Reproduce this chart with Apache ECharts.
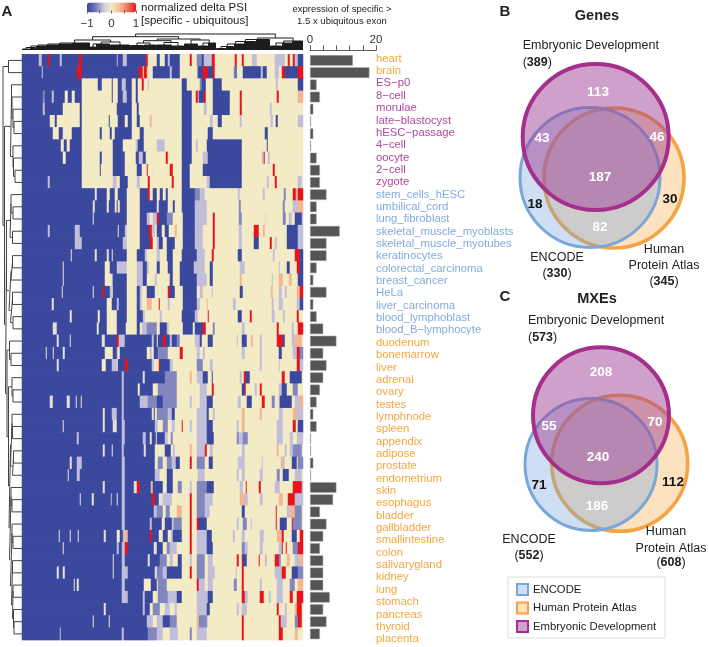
<!DOCTYPE html>
<html><head><meta charset="utf-8">
<style>html,body{margin:0;padding:0;background:#fff}#c{width:709px;height:647px}</style>
<script src="https://cdn.jsdelivr.net/npm/echarts@6/dist/echarts.min.js"></script>
</head><body><div id="c"></div>
<script>
const FONT = '"Liberation Sans", Arial, sans-serif';
const ORANGE = '#f5a63f', PURPLE = '#b0499f', BLUE = '#82abdd';

const samples = ['heart','brain','ES−p0','8−cell','morulae','late−blastocyst','hESC−passage','4−cell','oocyte','2−cell','zygote','stem_cells_hESC','umbilical_cord','lung_fibroblast','skeletal_muscle_myoblasts','skeletal_muscle_myotubes','keratinocytes','colorectal_carcinoma','breast_cancer','HeLa','liver_carcinoma','blood_lymphoblast','blood_B−lymphocyte','duodenum','bonemarrow','liver','adrenal','ovary','testes','lymphnode','spleen','appendix','adipose','prostate','endometrium','skin','esophagus','bladder','gallbladder','smallintestine','colon','salivarygland','kidney','lung','stomach','pancreas','thyroid','placenta'];
const expression = [13,18,2,3,1,0,1,0,2,3,3,5,2,2,9,5,5,2,1,5,1,2,4,8,4,5,4,3,2,1,2,0,0,1,0,8,7,3,5,4,3,4,4,4,6,4,5,3];

// Each heat row: value code + last column index of the run.
const levels = {B:-1,M:-0.6,L:-0.35,W:-0.12,c:0,o:0.35,p:0.6,r:1};
const heatRows = [
"B17 L20 B26 r28 B38 L40 B57 r60 B95 L96 B101 L105 B124 r126 c135 B138 c143 B146 L148 B158 c168 r170 c175 M180 B182 L190 r193 c213 r215 c220 r222 c230 L235 c253 L263 c266 r268 c271 r273 L276 B281",
"B20 L21 B55 r60 B117 r121 c122 r125 o126 c131 B148 L150 B158 c175 L176 B181 r186 B191 r193 c212 M214 B215 c221 B239 L241 B245 c253 L257 c260 r263 B276 r281",
"B60 c76 B80 c90 B91 c96 B100 L104 B110 c114 B116 c120 r122 c126 L127 c160 B165 c178 M180 B184 c191 B200 c254 L256 c276 B281",
"B21 M23 B30 L32 B43 c46 B50 c53 B60 c90 B91 c96 B101 L105 B110 c114 B116 c160 B170 c174 r176 L177 B182 r184 c191 B208 c218 r220 c255 r257 c276 o281",
"B21 L23 B41 c58 B60 c95 B110 c115 B117 c160 B170 c182 L185 c191 B208 c218 r220 c248 L250 c281",
"B28 c33 B35 c58 B60 c87 B88 c96 B103 c106 B110 c115 B118 c128 o130 c160 B170 c188 L191 c196 B200 c218 L220 c249 L251 c254 B256 c276 L281",
"B31 c37 B41 c50 B60 c78 B80 c88 B90 c93 B110 c118 B122 c160 B170 c186 B191 c243 B246 c281",
"B39 c42 B45 c48 B60 c91 B101 c114 L116 B122 c135 L143 c160 B170 c174 L176 c185 B220 c245 B246 c281",
"B41 c44 B60 c78 B80 c91 B103 c114 B117 L121 B124 c144 r146 c160 B170 c181 L186 B220 c240 L242 r243 c246 L248 c281",
"B60 c78 B79 c91 B103 c115 B120 c125 r126 c148 r151 c160 B168 c181 B220 c251 r253 c281",
"B26 L28 B60 c91 L95 c98 B106 c115 L118 c126 r128 c150 r152 c160 B168 c185 L188 B220 c245 L247 c253 r255 c276 L280 c281",
"B73 W75 B85 c88 B93 c96 B105 c118 B126 r128 c131 B135 c138 B141 c144 B146 c160 B173 M178 L183 c216 L218 c241 L243 c262 M264 c271 r274 o276 r281",
"B71 W73 B85 c87 B93 W95 B96 c98 B105 c118 B135 W137 B146 c151 B153 c160 B173 L185 c217 M219 c261 M263 c271 L276 o281",
"B71 W72 B105 c118 B125 L128 c131 L135 r137 B145 M151 c161 B173 L185 c191 r193 c217 M220 c243 W245 c261 M264 c267 L270 c273 B280 L281",
"B26 L28 B53 L58 B96 W97 B103 L105 c118 B127 r130 L133 c135 B140 c143 B147 c153 o155 c161 B173 L181 c191 r193 c217 L220 c232 r237 c241 o243 c265 B276 L281",
"B53 L60 B101 L105 c118 B128 r131 c135 L137 B141 c145 B153 c161 B173 L181 c191 r193 c217 L220 c232 B237 c248 r250 c253 L255 c265 B276 L281",
"B49 W50 B73 W75 B85 W87 B90 W91 B105 c115 B123 L125 c135 L138 c145 B151 c160 B175 L183 c190 r192 c216 B220 c251 L253 c273 r278 B281",
"B41 W42 B83 c88 B95 L105 c115 L121 B125 L127 c135 B138 c146 B151 c158 B172 L183 c188 B191 c218 L223 c257 L258 c265 B268 c275 r278 B281",
"B41 W42 B83 c90 L91 B105 c115 L121 B125 c133 L135 c148 B151 c158 B175 L185 c188 B191 c218 o220 c250 L251 c257 o261 c267 o270 c276 B281",
"B40 W41 B71 W72 B80 r82 B88 L90 c91 B105 c115 B118 L120 c125 B133 c146 r148 B153 c161 B175 c178 L181 c190 L191 c218 B221 c249 o251 c257 L260 c263 L265 c275 o278 r281",
"B30 W32 B85 c90 B95 L97 B105 c115 B118 L120 c125 o130 c137 r138 c146 L148 c161 B175 L178 c185 o186 c211 L214 c250 L252 c257 L261 c275 L278 B281",
"B48 W50 B76 c78 B85 c95 B105 c115 B121 L123 c138 L140 c160 B173 L176 c186 r187 c216 B220 c228 r230 c250 L253 c261 L263 c275 r277 c281",
"B31 W35 B75 W77 B85 c95 B104 c115 B118 c120 L125 M135 c138 B145 L147 c161 B171 c173 B181 r184 c191 M193 c220 L223 c255 r257 c270 L272 c276 r281",
"B35 W37 B48 W49 B80 W83 B95 r97 L103 B130 L132 B135 c136 B141 r144 B148 L150 B155 M158 c173 L178 B180 c186 B191 c215 L216 c220 B225 c229 o231 c238 L240 c255 r261 B263 c270 L273 o280 c281",
"B24 W25 B31 W32 B41 W43 B83 c91 B95 L96 c98 B125 c128 L130 c132 B136 M146 c158 r161 c175 L178 c181 L183 c220 L223 c238 L240 c257 B260 c271 L275 r278 M281",
"B35 W37 B80 c84 B90 L95 c96 B103 r106 B130 L132 c137 r138 B148 L151 c175 M181 c188 L191 c238 L240 c257 L258 c275 r278 L281",
"B100 L102 B121 W123 B143 M155 c168 o170 c175 L181 B186 c190 B191 c218 L220 c222 r224 B228 c260 r263 c268 B280 c281",
"B100 L102 B116 c118 B131 c136 M155 c178 L185 c190 r192 c220 B223 r224 c233 L235 c238 r240 c257 L260 B265 c271 M276 c281",
"B28 W31 B45 W48 B54 W55 B59 W60 B100 L102 B118 L126 M135 B141 M155 c168 L170 c178 L185 B191 c216 L219 c225 B230 c240 r243 c250 M253 c257 L258 B270 c273 L278 o281",
"B81 W83 B90 L95 B100 L102 B130 W132 B133 c135 M146 L150 B153 c175 L185 B187 c191 L193 c220 o223 c238 o240 c257 L261 c271 o275 L281",
"B41 W42 B81 W83 B91 W95 B100 L103 B133 L136 c141 M146 c150 L153 c160 r161 c168 L170 c175 L185 B191 c215 L217 c220 o223 c255 L261 c271 r274 c276 B281",
"B55 L57 B100 L103 B121 L124 B128 W130 B134 W135 B143 L146 c149 M151 c175 L185 B192 c215 M217 L221 M226 c255 L261 c268 L271 c275 L281",
"B81 W83 B90 W91 B100 L102 B122 W124 B133 c143 B149 c151 L153 c168 o170 c175 L183 r185 c188 L191 c220 L223 c255 o257 c263 L265 c268 L271 M280 c281",
"B48 W50 B55 L60 B100 L103 B133 c136 M141 c145 M150 L154 B158 c168 r170 c175 M183 c187 B191 c216 L223 c240 L241 c259 o261 L263 c270 B275 c276 M281",
"B46 W47 B55 L58 B100 L103 B133 L138 c145 B151 c176 L183 c215 L217 c220 L223 c238 L241 c255 M258 c261 B267 c273 L280 c281",
"B81 W83 B100 L103 B112 W115 r118 B129 o131 B141 c145 B151 c156 M160 c168 L170 c175 M185 B192 c218 L221 c224 r225 c237 r239 c253 L258 c271 r280 L281",
"B58 W59 B70 W72 B89 L90 B95 W96 B100 L103 B130 r133 B137 W141 L150 c168 r170 c175 M183 L191 c218 o223 L226 c238 L241 c257 o261 c266 r273 L281",
"B100 L103 B132 L135 M141 c144 M148 c155 o160 c168 r170 c175 M183 L188 c220 B223 c254 r255 c265 L268 o273 M280 c281",
"B100 L103 B128 L130 B140 c143 B150 L152 M160 c168 r170 c175 r177 B185 c215 L217 c221 M225 c229 L230 c254 r255 c258 B265 c270 r271 M280 c281",
"B37 W38 B48 W49 B56 W57 B82 W84 B95 c98 B101 L103 o106 B128 r130 B137 c141 B146 c149 L151 B160 c168 r170 c175 L185 B190 c211 L213 c220 L223 c238 L242 c255 o260 r262 c270 B275 c278 r281",
"B41 W42 B95 L97 B100 L103 r106 B132 W135 B141 c145 M148 L155 c168 r170 c175 L185 B191 c220 M223 L226 c238 L241 c257 L260 r261 c264 r265 c271 M276 r281",
"B91 W92 B100 L103 B126 W128 B138 M145 c148 L151 c156 B160 c168 L170 c175 M183 c186 L191 c215 r217 c220 r221 B225 c237 r238 c243 L245 c253 r257 M259 c265 o268 c273 L278 o281",
"B35 W37 B41 W43 B91 W92 B100 L106 B133 W135 M141 L145 B160 c168 r170 c175 M183 c186 L193 c214 L215 c220 r222 c253 L260 r264 c270 B276 M281",
"B52 W53 B55 W57 B100 L103 B122 c129 B135 c136 M145 c175 r177 L183 c186 L191 c212 M215 c220 r222 c238 L240 c255 L261 c268 M273 c276 o281",
"B100 L106 B121 L123 B131 c136 M146 L155 B160 c175 L186 B191 c220 r223 L226 c238 r242 c247 L249 c255 L261 c268 r271 c275 r281",
"B82 W84 B121 L123 B128 c131 M138 c143 L148 c153 L155 c175 L185 B188 c215 L217 c220 L225 c255 r257 c263 L265 c273 o275 r280 c281",
"B71 W72 B87 W88 B125 L131 c135 L141 B148 M155 c175 o177 M185 L186 c220 r222 c257 r259 L265 c273 M276 r280 c281",
"B38 L39 B100 L102 B126 M135 L141 c148 L156 c168 M170 c175 L185 c220 r222 c257 r261 c273 o276 c281"
];

// Dendrograms: [height, child, child...]; row children are sample indexes, column children are leaf counts.
const rowTree = [19,[13.5,0,1],[17.5,
  [11.5,[10.5,2,[10,3,[9,4,[8,5,6]]]],[9,7,[8.5,8,[7,9,10]]]],
  [16.5,
    [15.5,[12,[11,11,[9,12,13]],[9.5,14,15]],[13,[11,[9.5,16,17],18],[11.5,[9.5,19,20],[9,21,22]]]],
    [15,[12.5,23,[11,24,25]],[13.5,[10,26,[9,27,28]],[13,[11.5,[10,29,[9.5,30,31]],[9.5,[8.5,32,33],34]],
      [12.5,[11,35,[10,36,37]],[11.5,[10,38,[9,39,40]],[10.5,[9.5,41,42],[9.5,[9,43,44],[8.5,45,[8,46,47]]]]]]]]]
  ]]];
const colTree = [16,
  [13.3,
    [10,[7,[6,[5,[4,[2.5,[1,8],6],10],12],14],18],[8,[6,[3,6],14],[5,8,12]]],
    [11,[9.3,[7,[4.5,14],[5,12]],[7.5,[5,16],[4,12]]],[10,[6,14],[7,[4,10],8]]]
  ],
  [12,[10.5,[8.5,[6,[3.5,[1.5,10],8],10],12],14],[9,[7,[4,12],10],11]]
];

// Venn diagrams
const setNames = ['Human Protein Atlas','ENCODE','Embryonic Development'];
const setFill = ['rgba(250,170,70,0.34)','rgba(120,165,222,0.36)','rgba(160,65,150,0.50)'];
const setStroke = ['#f4a444','#7ba6d8','#a52f8c'];
const setLine = [3.6,3,4];
const vennCircles = {
  genes:[[614,178,70],[590,177.5,70],[595.7,137,73]],
  mxes:[[619.7,463.3,68],[591,464.4,66],[601,415.3,68]]
};
const regionGenes = [['113',598,92,1],['43',542,138,1],['46',657,137,1],['187',600,177,1],['18',535,204,0],['30',670,199,0],['82',600,227,1]];
const regionMxes = [['208',601,372,1],['55',549,426,1],['70',655,422,1],['240',598,457,1],['71',539,485,0],['112',673,482,0],['186',597,506,1]];

/* ---- decode ---- */
const heatData = [];
heatRows.forEach((s,r)=>{ let col=0; s.split(' ').forEach(t=>{
  const v=levels[t[0]], end=+t.slice(1);
  for(;col<end;col++) heatData.push([col,r,v]);
});});

const rowLines=[];
(function walk(n){
  if(typeof n==='number') return {h:0,y:n+0.5};
  const a=walk(n[1]), b=walk(n[2]), h=n[0];
  rowLines.push([a.h,a.y],[h,a.y],[h,b.y],[b.h,b.y],['-','-']);
  return {h,y:(a.y+b.y)/2};
})(rowTree);

const colLines=[]; let cursor=0;
(function walk(n){
  const h=n[0], xs=[];
  n.slice(1).forEach(c=>{
    if(typeof c==='number'){ for(let i=0;i<c;i++){const p=cursor+0.5;cursor++;colLines.push([p,h],[p,0],['-','-']);xs.push(p);} }
    else { const r=walk(c); colLines.push([r.x,h],[r.x,r.h],['-','-']); xs.push(r.x); }
  });
  const lo=Math.min(...xs), hi=Math.max(...xs);
  colLines.push([lo,h],[hi,h],['-','-']);
  return {x:(lo+hi)/2,h};
})(colTree);

const sampleColor = i => i<2?ORANGE : i<11?PURPLE : i<23?BLUE : ORANGE;

/* ---- text ---- */
const txt=(text,x,y,o={})=>({type:'text',silent:true,z:50,style:Object.assign({text,x,y,fill:'#222',font:`${o.size||12.5}px ${FONT}`,textAlign:o.align||'center',textVerticalAlign:'middle'},o.fontStr?{font:o.fontStr}:{},o.fill?{fill:o.fill}:{})});
const countTxt=(n,x,y,align)=>({type:'text',silent:true,z:50,style:{text:`{a|(}{b|${n}}{a|)}`,x,y,textAlign:align,textVerticalAlign:'middle',rich:{a:{font:`12.5px ${FONT}`,fill:'#222'},b:{font:`bold 12.5px ${FONT}`,fill:'#222'}}}});
const regionTxt=r=>txt(r[0],r[1],r[2],{fontStr:`bold 13.5px ${FONT}`,fill:r[3]?'#fff':'#111'});
const graphics=[
  txt('A',7,12,{fontStr:`bold 15px ${FONT}`}),
  txt('B',505,12,{fontStr:`bold 15px ${FONT}`}),
  txt('C',505,297,{fontStr:`bold 15px ${FONT}`}),
  txt('normalized delta PSI',141,7.5,{align:'left',size:11.5}),
  txt('[specific - ubiquitous]',141,21,{align:'left',size:11.5}),
  txt('expression of specific >',342,9,{size:9.5}),
  txt('1.5 x ubiquitous exon',342,21,{size:9.5}),
  txt('Genes',597,16,{fontStr:`bold 14.5px ${FONT}`}),
  txt('MXEs',597,299,{fontStr:`bold 14.5px ${FONT}`}),
  txt('Embryonic Development',522.7,46,{align:'left'}),
  countTxt(389,522.7,62.7,'left'),
  txt('ENCODE',557,258), countTxt(330,557,273.5,'center'),
  txt('Human',664,250), txt('Protein Atlas',664,265.5), countTxt(345,664,281.5,'center'),
  txt('Embryonic Development',528,321,{align:'left'}),
  countTxt(573,528,337.7,'left'),
  txt('ENCODE',529,540), countTxt(552,529,556,'center'),
  txt('Human',666,532), txt('Protein Atlas',671,548.3), countTxt(608,671,563,'center'),
  ...regionGenes.map(regionTxt), ...regionMxes.map(regionTxt)
];

const vennItem=(idx)=>(params,api)=>{
  const c=api.coord([api.value(0),api.value(1)]);
  const r=api.size([api.value(2),0])[0];
  return {type:'circle',shape:{cx:c[0],cy:c[1],r},style:{fill:setFill[idx],stroke:setStroke[idx],lineWidth:setLine[idx]}};
};
const vennSeries=[];
[0,1,2].forEach(i=>{
  vennSeries.push({type:'custom',name:setNames[i],xAxisIndex:5,yAxisIndex:5,silent:true,renderItem:vennItem(i),
    itemStyle:{color:setFill[i],borderColor:setStroke[i],borderWidth:2},
    clip:false,data:[vennCircles.genes[i],vennCircles.mxes[i]]});
});

const hidden=(o)=>Object.assign({show:false},o);
const option={
  animation:false,
  backgroundColor:'#fff',
  textStyle:{fontFamily:FONT},
  grid:[
    {left:22,top:54.3,width:281,height:585.7},
    {left:310,top:54.3,width:66,height:585.7},
    {left:376,top:52.5,width:1,height:592.8},
    {left:3,top:54.3,width:19,height:585.7},
    {left:22,top:33,width:281,height:17},
    {left:0,top:0,width:709,height:647},
    {left:87,top:12.5,width:49,height:1}
  ],
  xAxis:[
    hidden({type:'category',gridIndex:0,data:Array.from({length:281},(_,i)=>i)}),
    {type:'value',gridIndex:1,min:0,max:20,interval:4,position:'top',offset:4,
      axisLine:{show:true,lineStyle:{color:'#333',width:.8}},
      axisTick:{show:true,length:5,lineStyle:{color:'#333',width:.8}},
      splitLine:{show:false},
      axisLabel:{margin:4,fontSize:11.5,color:'#333',fontFamily:FONT,formatter:v=>(v===0||v===20)?String(v):''}},
    hidden({type:'value',gridIndex:2,min:0,max:1}),
    hidden({type:'value',gridIndex:3,min:0,max:19,inverse:true}),
    hidden({type:'value',gridIndex:4,min:0,max:281}),
    hidden({type:'value',gridIndex:5,min:0,max:709}),
    {type:'value',gridIndex:6,min:-1,max:1,interval:0.5,position:'bottom',z:20,
      axisLine:{show:false},
      axisTick:{show:true,inside:true,length:3,lineStyle:{color:'#333',width:.7}},
      splitLine:{show:false},
      axisLabel:{margin:4,fontSize:11.5,color:'#333',fontFamily:FONT,hideOverlap:false,showMinLabel:true,showMaxLabel:true,
        formatter:v=>Number.isInteger(v)?String(v).replace('-','−'):''}}
  ],
  yAxis:[
    hidden({type:'category',gridIndex:0,inverse:true,data:samples}),
    hidden({type:'category',gridIndex:1,inverse:true,data:samples}),
    {type:'category',gridIndex:2,inverse:true,position:'left',
      data:samples.map((s,i)=>({value:s,textStyle:{color:sampleColor(i)}})),
      axisLine:{show:false},axisTick:{show:false},splitLine:{show:false},
      axisLabel:{inside:true,interval:0,margin:0,fontSize:11.3,fontFamily:FONT,align:'left'}},
    hidden({type:'value',gridIndex:3,min:0,max:48,inverse:true}),
    hidden({type:'value',gridIndex:4,min:0,max:17}),
    hidden({type:'value',gridIndex:5,min:0,max:647,inverse:true}),
    hidden({type:'value',gridIndex:6,min:0,max:1})
  ],
  visualMap:{type:'continuous',seriesIndex:0,dimension:2,min:-1,max:1,orient:'horizontal',left:87,top:2.5,
    itemWidth:10,itemHeight:49,padding:0,text:null,showLabel:false,calculable:false,hoverLink:false,
    inRange:{color:['#3b489d','#5e66ae','#9c9dca','#d9d6e4','#f3ebc5','#f6c9a0','#f29a78','#ec5a48','#e6141e']}},
  legend:{left:508,top:577,orient:'vertical',itemWidth:11,itemHeight:11,itemGap:5.5,padding:[6,9,5,8],
    backgroundColor:'#fff',borderColor:'#ddd',borderWidth:1,selectedMode:false,
    textStyle:{fontSize:11.3,color:'#222',fontFamily:FONT},icon:'rect',
    data:[1,0,2].map(i=>({name:setNames[i],itemStyle:{color:setFill[i],borderColor:setStroke[i],borderWidth:2}}))},
  graphic:graphics,
  series:[
    {type:'heatmap',xAxisIndex:0,yAxisIndex:0,data:heatData,progressive:0,silent:true,itemStyle:{borderWidth:0}},
    {type:'bar',xAxisIndex:1,yAxisIndex:1,data:expression,barWidth:10.6,barMinHeight:1,silent:true,
      itemStyle:{color:'#555',borderColor:'#aaa',borderWidth:.5}},
    {type:'line',xAxisIndex:3,yAxisIndex:3,data:rowLines,showSymbol:false,connectNulls:false,silent:true,clip:false,
      lineStyle:{color:'#444',width:1}},
    {type:'line',xAxisIndex:4,yAxisIndex:4,data:colLines,showSymbol:false,connectNulls:false,silent:true,clip:false,
      lineStyle:{color:'#1c1c1c',width:1}},
    ...vennSeries
  ]
};
const chart=echarts.init(document.getElementById('c'),null,{renderer:'canvas'});
chart.setOption(option);
</script></body></html>
